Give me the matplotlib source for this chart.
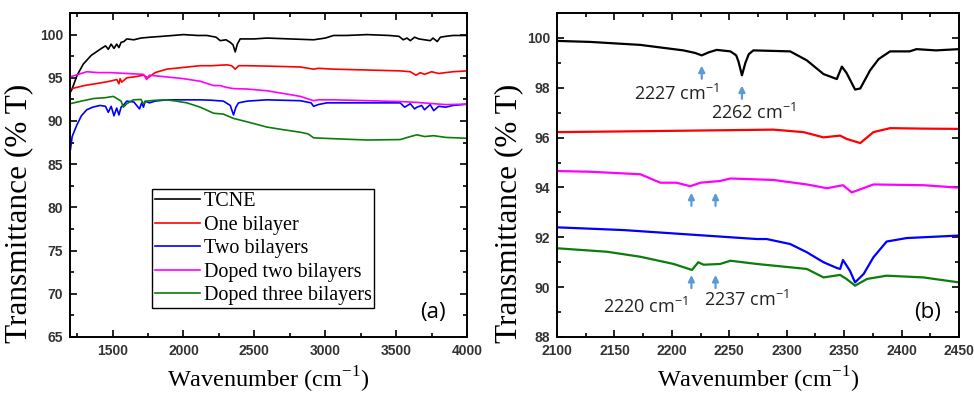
import matplotlib
matplotlib.use("Agg")
import matplotlib.pyplot as plt
from matplotlib.ticker import MultipleLocator

plt.rcParams["mathtext.fontset"] = "custom"
plt.rcParams["mathtext.rm"] = "Liberation Serif"
plt.rcParams["mathtext.sf"] = "Open Sans"

# ---------------- Panel (a) data ----------------
wn_a_tcne = [1200, 1212, 1250, 1294, 1350, 1412, 1450, 1470, 1490, 1510, 1529, 1545, 1560, 1580, 1600, 1650,
             1700, 1765, 1850, 2000, 2100, 2165, 2230, 2259, 2300, 2330, 2350, 2365, 2380, 2400, 2500, 2588,
             2750, 2918, 3000, 3059, 3150, 3294, 3450, 3520, 3550, 3576, 3600, 3630, 3660, 3700, 3741,
             3760, 3790, 3812, 3850, 3900, 4000]
t_a_tcne = [93.3, 93.6, 95.3, 96.6, 97.6, 98.3, 98.7, 98.3, 98.9, 98.4, 98.9, 98.5, 99.1, 99.2, 99.5, 99.4,
            99.6, 99.7, 99.8, 100.0, 99.9, 99.9, 99.7, 99.3, 99.4, 99.1, 98.8, 98.0, 98.9, 99.5, 99.5, 99.6,
            99.5, 99.4, 99.6, 99.9, 99.9, 100.0, 99.9, 99.8, 99.4, 99.6, 99.3, 99.7, 99.5, 99.4, 99.3,
            99.6, 99.2, 99.7, 99.8, 99.9, 99.9]

wn_a_one = [1200, 1300, 1412, 1480, 1530, 1545, 1553, 1565, 1600, 1650, 1718, 1750, 1800, 1882, 2000, 2118,
            2200, 2306, 2340, 2365, 2390, 2447, 2600, 2824, 2918, 2950, 3059, 3300, 3529, 3600, 3640, 3670,
            3700, 3750, 3800, 3900, 4000]
t_a_one = [93.7, 94.1, 94.4, 94.6, 94.8, 94.3, 94.9, 94.5, 95.0, 95.1, 95.3, 95.0, 95.6, 96.0, 96.2, 96.4,
           96.4, 96.5, 96.4, 96.0, 96.4, 96.4, 96.35, 96.25, 96.0, 96.1, 96.0, 95.9, 95.8, 95.7, 95.3, 95.6,
           95.4, 95.7, 95.5, 95.7, 95.8]

wn_a_doped2 = [1200, 1318, 1400, 1482, 1600, 1718, 1740, 1760, 1882, 2000, 2118, 2212, 2260, 2300, 2353,
               2450, 2588, 2700, 2824, 2918, 2950, 3059, 3300, 3529, 3650, 3765, 3850, 4000]
t_a_doped2 = [95.1, 95.7, 95.6, 95.6, 95.5, 95.4, 94.8, 95.3, 95.1, 94.9, 94.6, 94.1, 94.1, 93.9, 93.75,
              93.7, 93.5, 93.2, 92.85, 92.35, 92.45, 92.45, 92.35, 92.25, 92.15, 92.0, 91.9, 91.95]

wn_a_two = [1203, 1215, 1247, 1280, 1318, 1360, 1412, 1450, 1470, 1490, 1510, 1529, 1545, 1560, 1580, 1600,
            1650, 1690, 1705, 1718, 1730, 1760, 1800, 1882, 2000, 2118, 2200, 2282, 2330, 2353, 2370, 2388,
            2450, 2588, 2700, 2824, 2900, 2918, 2950, 3012, 3200, 3529, 3560, 3600, 3630, 3647, 3680, 3700,
            3740, 3765, 3800, 3850, 3900, 4000]
t_a_two = [86.7, 88.2, 89.5, 90.6, 91.3, 91.6, 91.8, 91.7, 91.0, 91.7, 90.6, 91.5, 90.7, 91.6, 91.9, 92.3,
           92.2, 91.4, 92.1, 91.6, 92.3, 92.1, 92.3, 92.45, 92.45, 92.45, 92.4, 92.3, 91.8, 90.7, 91.6, 92.1,
           92.3, 92.45, 92.4, 92.35, 92.1, 91.7, 91.9, 92.1, 92.1, 92.1, 91.6, 92.0, 91.4, 91.6, 91.8, 91.3,
           91.9, 91.2, 91.7, 91.6, 91.8, 91.95]

wn_a_doped3 = [1200, 1280, 1365, 1450, 1506, 1540, 1560, 1576, 1600, 1647, 1700, 1718, 1740, 1800, 1882,
               1950, 2024, 2118, 2212, 2280, 2353, 2450, 2588, 2700, 2824, 2880, 2918, 3059, 3294, 3529,
               3600, 3647, 3700, 3765, 3850, 4000]
t_a_doped3 = [92.0, 92.3, 92.6, 92.7, 92.85, 92.5, 92.3, 91.6, 92.0, 92.45, 92.5, 92.0, 92.3, 92.4, 92.45,
              92.3, 92.1, 91.6, 90.9, 90.8, 90.3, 89.9, 89.3, 89.0, 88.7, 88.5, 88.05, 87.95, 87.8, 87.85,
              88.2, 88.4, 88.2, 88.3, 88.1, 88.0]

# ---------------- Panel (b) data ----------------
wn_b_tcne = [2100, 2129, 2172.5, 2210, 2220, 2226, 2232, 2239, 2251, 2256, 2258, 2261, 2264, 2267, 2271,
             2303, 2317.5, 2332, 2343.6, 2348, 2352, 2359.5, 2364, 2372.6, 2380, 2390, 2407, 2413, 2430, 2450]
t_b_tcne = [99.88, 99.84, 99.72, 99.5, 99.4, 99.3, 99.42, 99.52, 99.46, 99.3, 99.05, 98.5, 99.0, 99.35, 99.5,
            99.46, 99.1, 98.55, 98.35, 98.85, 98.6, 97.93, 97.97, 98.7, 99.15, 99.46, 99.46, 99.55, 99.5, 99.55]

wn_b_one = [2100, 2160, 2216, 2288.5, 2314.6, 2332, 2346.5, 2352, 2364, 2375.5, 2390, 2420, 2450]
t_b_one = [96.22, 96.25, 96.28, 96.32, 96.22, 96.01, 96.08, 95.95, 95.78, 96.22, 96.38, 96.36, 96.35]

wn_b_doped2 = [2100, 2129, 2172.5, 2190, 2204, 2216, 2225, 2242, 2251, 2288.5, 2317.5, 2335, 2349, 2356.6,
               2375.5, 2419, 2450]
t_b_doped2 = [94.66, 94.63, 94.53, 94.19, 94.19, 94.05, 94.19, 94.26, 94.36, 94.3, 94.12, 93.97, 94.09, 93.8,
              94.12, 94.09, 93.99]

wn_b_two = [2100, 2158, 2216, 2274, 2282.6, 2303, 2317.5, 2332, 2343.6, 2346.5, 2349, 2355, 2359.5, 2367,
            2375.5, 2387, 2404.5, 2450]
t_b_two = [92.4, 92.29, 92.11, 91.93, 91.93, 91.73, 91.4, 91.0, 90.77, 90.73, 91.09, 90.66, 90.19, 90.53,
           91.2, 91.83, 91.97, 92.07]

wn_b_doped3 = [2100, 2143.5, 2172.5, 2201.5, 2217.5, 2223, 2227.6, 2242, 2251, 2274, 2317.5, 2332, 2346.5,
               2352, 2359.5, 2370, 2387, 2419, 2450]
t_b_doped3 = [91.56, 91.42, 91.22, 90.93, 90.69, 91.0, 90.9, 90.93, 91.06, 90.93, 90.73, 90.39, 90.49,
              90.33, 90.06, 90.33, 90.46, 90.39, 90.19]

labels = ["TCNE", "One bilayer", "Two bilayers", "Doped two bilayers", "Doped three bilayers"]
colors = ["#000000", "#ff0000", "#0000ff", "#ff00ff", "#0a7d0a"]

# annotation data
arrow_wn_top = [2226, 2261]
arrow_wn_bottom = [2217, 2238]
label_top = [r"2227 cm$^{\mathsf{-1}}$", r"2262 cm$^{\mathsf{-1}}$"]
label_bottom = [r"2220 cm$^{\mathsf{-1}}$", r"2237 cm$^{\mathsf{-1}}$"]

fig = plt.figure(figsize=(9.74, 3.94), dpi=100)
ax1 = fig.add_axes([0.0719, 0.1447, 0.4076, 0.8223])
ax2 = fig.add_axes([0.5719, 0.1447, 0.4127, 0.8223])

serif = ["Liberation Serif", "DejaVu Serif"]
sans_tick = ["Liberation Sans", "DejaVu Sans"]
sans_ann = ["Open Sans", "DejaVu Sans"]

series_a = [(wn_a_tcne, t_a_tcne), (wn_a_one, t_a_one), (wn_a_two, t_a_two),
            (wn_a_doped2, t_a_doped2), (wn_a_doped3, t_a_doped3)]
series_b = [(wn_b_tcne, t_b_tcne), (wn_b_one, t_b_one), (wn_b_two, t_b_two),
            (wn_b_doped2, t_b_doped2), (wn_b_doped3, t_b_doped3)]

for (x, y), c, lab in zip(series_a, colors, labels):
    ax1.plot(x, y, color=c, lw=1.2, label=lab)
for (x, y), c in zip(series_b, colors):
    ax2.plot(x, y, color=c, lw=1.6)

ax1.set_xlim(1200, 4000)
ax1.set_ylim(65, 102.5)
ax1.set_xticks([1500, 2000, 2500, 3000, 3500, 4000])
ax1.xaxis.set_minor_locator(MultipleLocator(250))
ax1.yaxis.set_major_locator(MultipleLocator(5))
ax1.yaxis.set_minor_locator(MultipleLocator(2.5))

ax2.set_xlim(2100, 2450)
ax2.set_ylim(88, 101)
ax2.xaxis.set_major_locator(MultipleLocator(50))
ax2.xaxis.set_minor_locator(MultipleLocator(25))
ax2.yaxis.set_major_locator(MultipleLocator(2))
ax2.yaxis.set_minor_locator(MultipleLocator(1))

for ax in (ax1, ax2):
    ax.tick_params(which="both", direction="in", top=True, right=True, width=1.2)
    ax.tick_params(which="major", length=5)
    ax.tick_params(which="minor", length=3)
    ax.tick_params(axis="y", which="major", pad=5)
    ax.tick_params(axis="x", which="major", pad=5)
    for sp in ax.spines.values():
        sp.set_linewidth(1.4)
    for t in ax.get_xticklabels() + ax.get_yticklabels():
        t.set_family(sans_tick)
        t.set_fontweight("bold")
        t.set_fontsize(10)
        t.set_color("#333333")
    ax.set_xlabel("Wavenumber (cm$^{-1}$)", family=serif, fontsize=17.5)
    ax.set_ylabel("Transmittance (% T)", family=serif, fontsize=22.5)

ax1.xaxis.set_label_coords(0.5, -0.085)
ax2.xaxis.set_label_coords(0.5, -0.085)
ax1.yaxis.set_label_coords(-0.093, 0.38)
ax2.yaxis.set_label_coords(-0.085, 0.38)

leg = ax1.legend(loc="upper left", bbox_to_anchor=(0.207, 0.457), prop={"family": serif, "size": 14.5},
                 frameon=True, fancybox=False, framealpha=1, edgecolor="black", handlelength=2.2,
                 handletextpad=0.2, labelspacing=0.22, borderpad=0.15, borderaxespad=0)
leg.get_frame().set_linewidth(1.0)

ax1.text(0.914, 0.077, "(a)", transform=ax1.transAxes, ha="center", va="center", fontsize=16, family=sans_ann)
ax2.text(0.923, 0.077, "(b)", transform=ax2.transAxes, ha="center", va="center", fontsize=16, family=sans_ann)

arrow_kw = dict(arrowstyle="-|>", color="#5b9bd5", lw=1.6, mutation_scale=9)
# TCNE arrows
ax2.annotate("", xy=(arrow_wn_top[0], 99.0), xytext=(arrow_wn_top[0], 98.25), arrowprops=arrow_kw)
ax2.annotate("", xy=(arrow_wn_top[1], 98.2), xytext=(arrow_wn_top[1], 97.45), arrowprops=arrow_kw)
ax2.text(2204, 97.77, label_top[0], ha="center", va="center", fontsize=13, family=sans_ann, color="#222222")
ax2.text(2271, 96.99, label_top[1], ha="center", va="center", fontsize=13, family=sans_ann, color="#222222")
# doped two bilayers arrows
for w in arrow_wn_bottom:
    ax2.annotate("", xy=(w, 93.9), xytext=(w, 93.15), arrowprops=arrow_kw)
# doped three bilayers arrows
for w in arrow_wn_bottom:
    ax2.annotate("", xy=(w, 90.6), xytext=(w, 89.85), arrowprops=arrow_kw)
ax2.text(2177, 89.19, label_bottom[0], ha="center", va="center", fontsize=13, family=sans_ann, color="#222222")
ax2.text(2265, 89.49, label_bottom[1], ha="center", va="center", fontsize=13, family=sans_ann, color="#222222")

fig.savefig("out.png", dpi=100)
